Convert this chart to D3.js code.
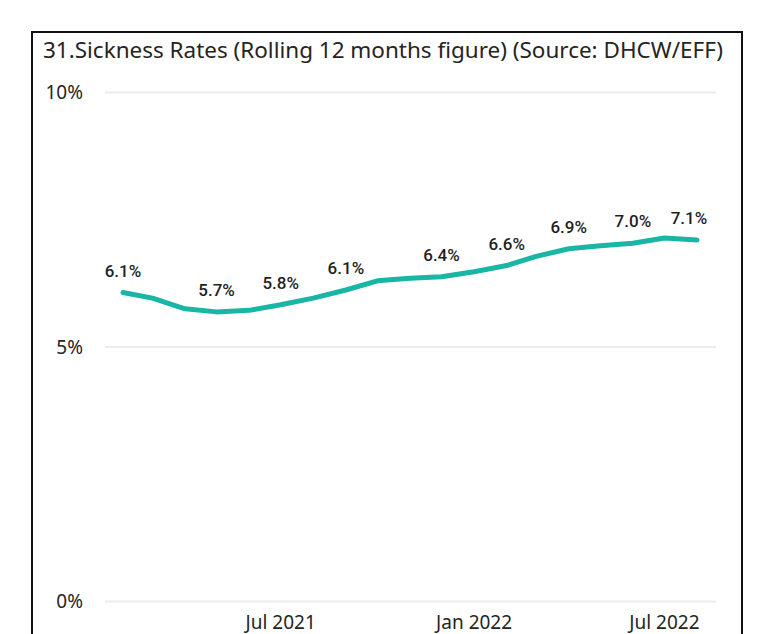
<!DOCTYPE html>
<html>
<head>
<meta charset="utf-8">
<script src="https://cdn.jsdelivr.net/npm/d3@7"></script>
<style>
  body { margin: 0; background: #fff; }
  svg { display: block; }
</style>
</head>
<body>
<div class="container"></div>
<script>
const title = "31.Sickness Rates (Rolling 12 months figure) (Source: DHCW/EFF)"

const months = ["2021-02", "2021-03", "2021-04", "2021-05", "2021-06", "2021-07", "2021-08",
  "2021-09", "2021-10", "2021-11", "2021-12", "2022-01", "2022-02", "2022-03", "2022-04",
  "2022-05", "2022-06", "2022-07", "2022-08"]
const sickness = [6.07, 5.96, 5.75, 5.69, 5.72, 5.83, 5.96, 6.12, 6.30, 6.35, 6.38, 6.48,
  6.60, 6.78, 6.93, 6.99, 7.04, 7.14, 7.10]
const labelMonths = ["2021-02", "2021-05", "2021-07", "2021-09", "2021-12", "2022-02",
  "2022-04", "2022-06", "2022-08"]
const yTicks = [0, 5, 10]
const xTicks = ["2021-07", "2022-01", "2022-07"]

const width = 769
const height = 634
const parse = d3.timeParse("%Y-%m")

const data = months.map((m, i) => ({ date: parse(m), value: sickness[i], key: m }))

const svg = d3.select(".container")
  .append("svg")
    .attr("width", width)
    .attr("height", height)

// visual frame
svg.append("rect")
  .attr("x", 32)
  .attr("y", 32)
  .attr("width", 710)
  .attr("height", 640)
  .attr("fill", "none")
  .attr("stroke", "#111")
  .attr("stroke-width", 2)

svg.append("text")
  .attr("x", 43)
  .attr("y", 58)
  .attr("font-family", "'Segoe UI', 'Noto Sans', sans-serif")
  .attr("font-size", 21)
  .attr("fill", "#252423")
  .attr("textLength", 680)
  .attr("lengthAdjust", "spacingAndGlyphs")
  .text(title)

const xScale = d3.scaleTime()
  .domain(d3.extent(data, d => d.date))
  .range([123, 697])

const yScale = d3.scaleLinear()
  .domain([0, 10])
  .range([601.5, 92.5])

// gridlines + y labels
const yAxis = svg.append("g").attr("id", "y-axis")
yAxis.selectAll("line")
  .data(yTicks)
  .enter()
  .append("line")
    .attr("x1", 105)
    .attr("x2", 716)
    .attr("y1", d => yScale(d))
    .attr("y2", d => yScale(d))
    .attr("stroke", "#ebebeb")
    .attr("stroke-width", 2)

yAxis.selectAll("text")
  .data(yTicks)
  .enter()
  .append("text")
    .attr("x", 83)
    .attr("y", d => yScale(d))
    .attr("dy", "0.36em")
    .attr("text-anchor", "end")
    .attr("font-family", "'Segoe UI', 'Noto Sans', sans-serif")
    .attr("font-size", 19)
    .attr("fill", "#252423")
    .text(d => d + "%")

// x labels
svg.append("g")
  .attr("id", "x-axis")
  .selectAll("text")
  .data(xTicks)
  .enter()
  .append("text")
    .attr("x", d => xScale(parse(d)))
    .attr("y", 629)
    .attr("text-anchor", "middle")
    .attr("font-family", "'Segoe UI', 'Noto Sans', sans-serif")
    .attr("font-size", 19)
    .attr("fill", "#252423")
    .text(d => d3.timeFormat("%b %Y")(parse(d)))

const line = d3.line()
  .x(d => xScale(d.date))
  .y(d => yScale(d.value))

svg.append("path")
  .datum(data)
  .attr("d", line)
  .attr("fill", "none")
  .attr("stroke", "#19b5a5")
  .attr("stroke-width", 5)
  .attr("stroke-linejoin", "round")
  .attr("stroke-linecap", "round")

// data labels (last one nudged in so it stays inside the plot)
svg.append("g")
  .selectAll("text")
  .data(data.filter(d => labelMonths.includes(d.key)))
  .enter()
  .append("text")
    .attr("x", (d, i, n) => xScale(d.date) - (i === n.length - 1 ? 8 : 0))
    .attr("y", d => yScale(d.value) - 16)
    .attr("text-anchor", "middle")
    .attr("font-family", "Roboto, sans-serif")
    .attr("font-weight", 500)
    .attr("font-size", 17)
    .attr("fill", "#1f1f1f")
    .text(d => d3.format(".1f")(d.value) + "%")
</script>
</body>
</html>
